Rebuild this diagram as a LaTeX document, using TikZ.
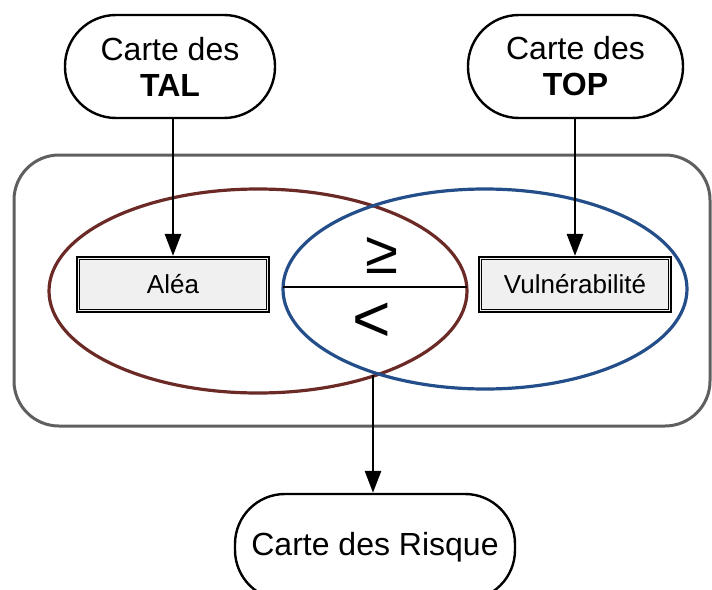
\documentclass[tikz,border=0pt]{standalone}
\usepackage{fontspec}
\setmainfont{Liberation Sans}
\usetikzlibrary{arrows.meta}
\definecolor{maroonline}{HTML}{6B2A26}
\definecolor{navyline}{HTML}{234E89}
\definecolor{frameline}{HTML}{5F5F5F}
\definecolor{boxfill}{HTML}{F0F0F0}
\begin{document}
\begin{tikzpicture}[x=1pt,y=-1pt,
  terminal/.style={draw, line width=2.4pt, rounded corners=51pt, minimum height=103pt,
    inner sep=0pt, align=center, font=\fontsize{32}{36}\selectfont},
  factor/.style={draw, line width=2.2pt, fill=boxfill, minimum width=192pt, minimum height=55pt,
    inner sep=0pt, font=\fontsize{26}{30}\selectfont},
  inner frame/.style={line width=1pt},
  flow/.style={line width=2.8pt, -{Triangle[length=22pt,width=16pt]}},
]
\useasboundingbox (0,0) rectangle (712,589);

% grouping frame
\draw[frameline, line width=3pt, rounded corners=45pt] (14,155) rectangle (710,426);

% the two overlapping sets
\draw[maroonline, line width=3.2pt] (258,291) ellipse [x radius=209, y radius=102];
\draw[navyline, line width=3.2pt] (485,289) ellipse [x radius=202, y radius=100];
\coordinate (meet) at (373,375);
\coordinate (lensL) at (283,287);
\coordinate (lensR) at (467,287);
\draw[line width=2.8pt] (lensL) -- (lensR);
\node[font=\fontsize{60}{60}\selectfont, inner sep=0pt] (ge) at (382,255) {≥};
\node[font=\fontsize{66}{66}\selectfont, inner sep=0pt] (lt) at (372,322) {<};

% input maps
\node[terminal, minimum width=210pt] (tal) at (170,66.5) {Carte des\\\textbf{TAL}};
\node[terminal, minimum width=215pt] (top) at (575.5,66.5) {Carte des\\\textbf{TOP}};

% factor boxes with double border
\node[factor] (alea) at (173,284.5) {Aléa};
\draw[inner frame] ([shift={(3.2,3.2)}]alea.north west) rectangle ([shift={(-3.2,-3.2)}]alea.south east);
\node[factor] (vuln) at (575,284.5) {Vulnérabilité};
\draw[inner frame] ([shift={(3.2,3.2)}]vuln.north west) rectangle ([shift={(-3.2,-3.2)}]vuln.south east);

% result map
\node[terminal, minimum width=280pt, minimum height=106pt, rounded corners=50pt] (risk) at (375,547) {Carte des Risque};

% connectors
\draw[flow] (alea.north |- tal.south) -- (alea.north);
\draw[flow] (vuln.north |- top.south) -- (vuln.north);
\draw[flow] (meet) -- (risk.north -| meet);
\end{tikzpicture}
\end{document}
